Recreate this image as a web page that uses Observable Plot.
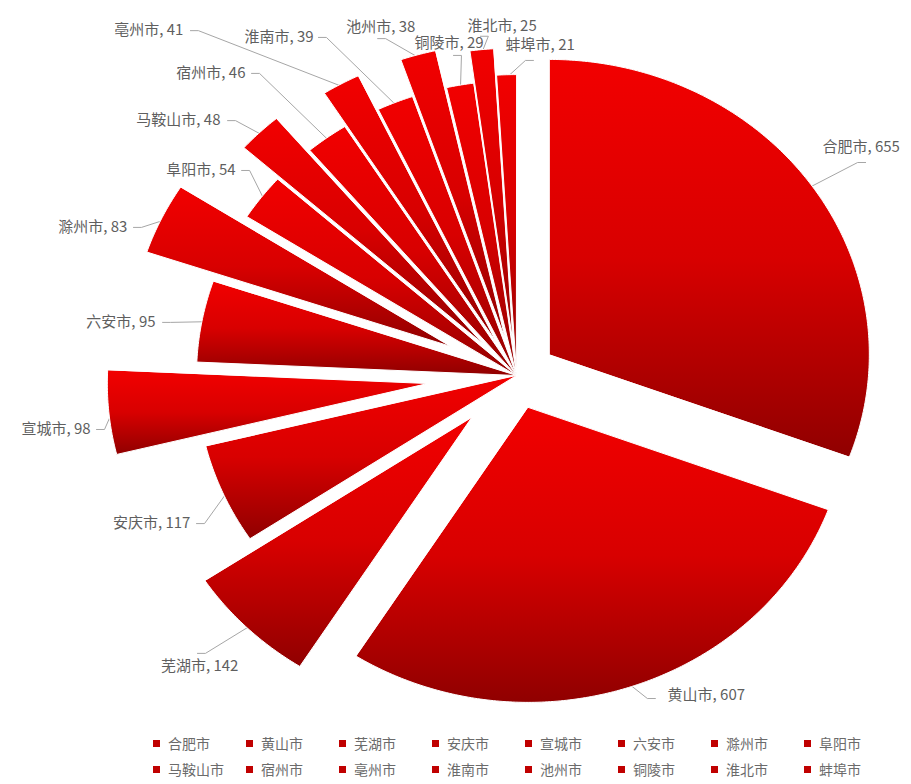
<!DOCTYPE html>
<html>
<head>
<meta charset="utf-8">
<script src="https://cdn.jsdelivr.net/npm/d3@7"></script>
<script src="https://cdn.jsdelivr.net/npm/@observablehq/plot@0.6"></script>
<style>
  html, body { margin: 0; padding: 0; background: #fff; }
  #chart svg { display: block; overflow: visible; }
  #legend {
    display: grid;
    grid-template-columns: repeat(8, 93px);
    grid-auto-rows: 26px;
    margin-left: 153px;
    font-family: "Noto Sans CJK SC", "Noto Sans", sans-serif;
    font-size: 14px;
    color: #6b6b6b;
  }
  #legend .item { display: flex; align-items: center; white-space: nowrap; }
  #legend .sw { width: 7px; height: 7px; background: #c00000; margin-right: 8px; }
</style>
</head>
<body>
<div id="chart"></div>
<div id="legend"></div>
<script>
// ---- data ----
const cities = ["合肥市", "黄山市", "芜湖市", "安庆市", "宣城市", "六安市", "滁州市", "阜阳市",
                "马鞍山市", "宿州市", "亳州市", "淮南市", "池州市", "铜陵市", "淮北市", "蚌埠市"];
const values = [655, 607, 142, 117, 98, 95, 83, 54, 48, 46, 41, 39, 38, 29, 25, 21];
// slice explosion (fraction of radius)
const explode = [0.125, 0.114, 0.2, 0.0, 0.28, 0.0, 0.23, 0.0, 0.15, 0.0, 0.13, 0.0, 0.13, 0.0, 0.11, 0.02];

// ---- layout (unit-radius coordinates) ----
const W = 911, H = 730, CX = 516, CY = 375, RX = 320, RY = 295;
// label anchor positions and text anchors
const labelPos = [
  [0.956, -0.773, "start"], [0.472, 1.085, "start"], [-0.869, 0.986, "end"], [-1.019, 0.502, "end"],
  [-1.331, 0.183, "end"], [-1.128, -0.180, "end"], [-1.216, -0.502, "end"], [-0.878, -0.695, "end"],
  [-0.925, -0.864, "end"], [-0.847, -1.024, "end"], [-1.041, -1.169, "end"], [-0.634, -1.146, "end"],
  [-0.316, -1.180, "end"], [-0.319, -1.125, "start"], [-0.153, -1.183, "start"], [-0.034, -1.119, "start"]
];
// leader line start points near the labels
const leadPos = [
  [1.091, -0.722], [0.434, 1.095], [-0.997, 0.942], [-1.0, 0.502],
  [-1.3125, 0.183], [-1.106, -0.180], [-1.197, -0.502], [-0.859, -0.695],
  [-0.903, -0.864], [-0.828, -1.024], [-1.019, -1.169], [-0.619, -1.146],
  [-0.434, -1.142], [-0.197, -1.085], [-0.113, -1.150], [0.053, -1.068]
];

const arcs = d3.pie().sort(null).value(d => d)(values);

const slicePts = [];
const leaderPts = [];
const labels = [];
arcs.forEach((p, i) => {
  const e = explode[i];
  const mid = (p.startAngle + p.endAngle) / 2;
  const ax = e * Math.sin(mid), ay = -e * Math.cos(mid);
  slicePts.push({name: cities[i], u: ax, v: ay});
  const n = Math.max(8, Math.ceil((p.endAngle - p.startAngle) / 0.01));
  for (let k = 0; k <= n; k++) {
    const a = p.startAngle + (p.endAngle - p.startAngle) * k / n;
    slicePts.push({name: cities[i], u: ax + Math.sin(a), v: ay - Math.cos(a)});
  }
  const end = {u: (1 + e - 0.01) * Math.sin(mid), v: -(1 + e - 0.01) * Math.cos(mid)};
  const [lu, lv] = leadPos[i];
  const sgn = Math.sign(end.u - lu) || 1;
  leaderPts.push({name: cities[i], u: lu, v: lv});
  leaderPts.push({name: cities[i], u: lu + sgn * 0.025, v: lv});
  leaderPts.push({name: cities[i], u: end.u, v: end.v});
  labels.push({u: labelPos[i][0], v: labelPos[i][1], anchor: labelPos[i][2], text: `${cities[i]}, ${values[i]}`});
});

const font = "'Noto Sans CJK SC', 'Noto Sans', sans-serif";

const svg = Plot.plot({
  width: W,
  height: H,
  margin: 0,
  x: {domain: [-CX / RX, (W - CX) / RX], range: [0, W], axis: null},
  y: {domain: [-CY / RY, (H - CY) / RY], range: [0, H], axis: null},
  style: {background: "#fff", fontFamily: font},
  marks: [
    Plot.line(leaderPts, {x: "u", y: "v", z: "name", stroke: "#a6a6a6", strokeWidth: 1}),
    Plot.line(slicePts, {x: "u", y: "v", z: "name", curve: "linear-closed",
      fill: "url(#sliceGrad)", stroke: "white", strokeWidth: 1}),
    Plot.text(labels.filter(d => d.anchor === "end"), {x: "u", y: "v", text: "text",
      textAnchor: "end", fontSize: 15, fill: "#5f5f5f", fontFamily: font}),
    Plot.text(labels.filter(d => d.anchor === "start"), {x: "u", y: "v", text: "text",
      textAnchor: "start", fontSize: 15, fill: "#5f5f5f", fontFamily: font})
  ]
});

const defs = d3.select(svg).insert("defs", ":first-child");
const g = defs.append("linearGradient").attr("id", "sliceGrad")
  .attr("x1", 0).attr("y1", 0).attr("x2", 0).attr("y2", 1);
g.append("stop").attr("offset", "0%").attr("stop-color", "#f20000");
g.append("stop").attr("offset", "50%").attr("stop-color", "#d80000");
g.append("stop").attr("offset", "100%").attr("stop-color", "#900000");

document.getElementById("chart").appendChild(svg);

const legend = d3.select("#legend");
cities.forEach(c => {
  const it = legend.append("div").attr("class", "item");
  it.append("span").attr("class", "sw");
  it.append("span").text(c);
});
</script>
</body>
</html>
